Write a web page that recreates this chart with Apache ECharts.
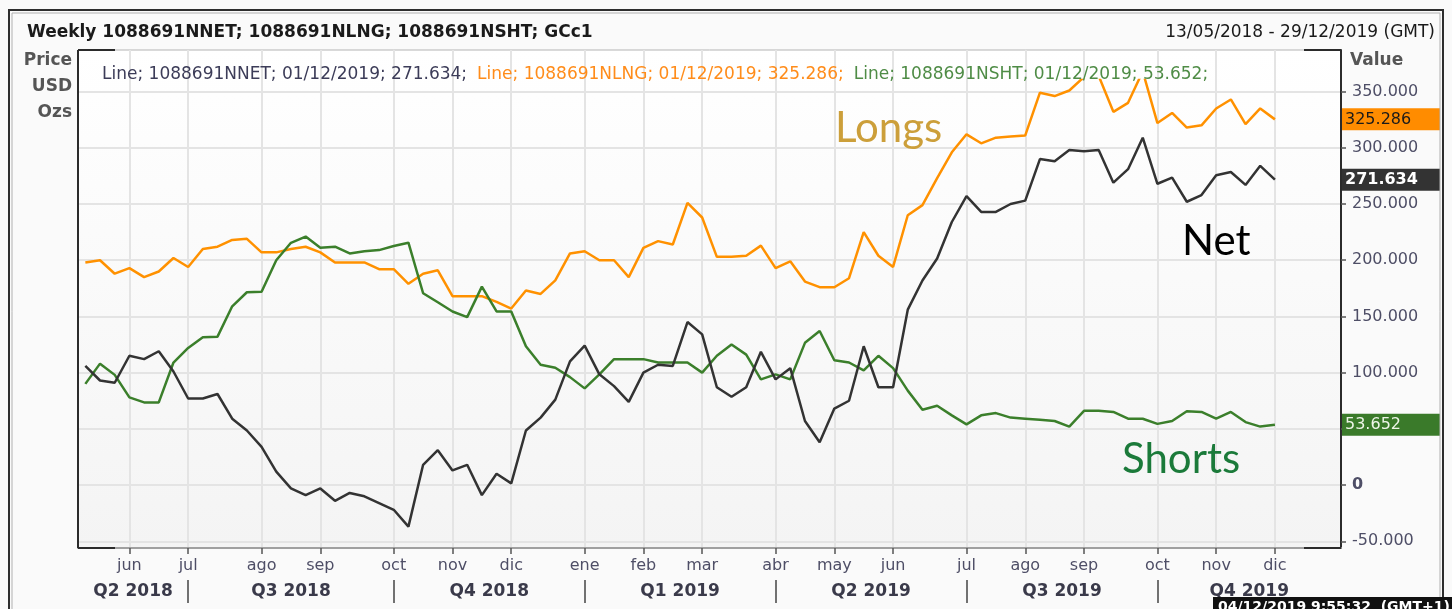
<!DOCTYPE html>
<html>
<head>
<meta charset="utf-8">
<title>Posiciones COT oro</title>
<script src="https://cdn.jsdelivr.net/npm/echarts@6.0.0/dist/echarts.min.js"></script>
<style>
  html, body { margin: 0; padding: 0; background: #ffffff; }
  #main { width: 1452px; height: 609px; }
</style>
</head>
<body>
<div id="main"></div>
<script>
// semanas (domingos) del 13/05/2018 al 29/12/2019
var weeks = [];
for (var k = 0; k < 86; k++) {
  var d = new Date(Date.UTC(2018, 4, 13) + k * 7 * 86400000);
  weeks.push(('0' + d.getUTCDate()).slice(-2) + '/' + ('0' + (d.getUTCMonth() + 1)).slice(-2) + '/' + d.getUTCFullYear());
}
var monthNames = ['ene', 'feb', 'mar', 'abr', 'may', 'jun', 'jul', 'ago', 'sep', 'oct', 'nov', 'dic'];
var quarterLabels = ['Q2 2018', 'Q3 2018', 'Q4 2018', 'Q1 2019', 'Q2 2019', 'Q3 2019', 'Q4 2019'];
var yTicks = [-50, 0, 50, 100, 150, 200, 250, 300, 350];

// Net (1088691NNET)
var netData = [106, 93, 91, 115, 112, 119, 101, 77, 77, 81, 59, 48.5, 34, 12, -3, -9, -3,
  -14, -7, -10, -16, -22, -37, 18, 31, 13, 18, -9, 10, 1.5, 48.5, 60, 76, 110,
  124, 98.5, 88, 74, 100, 107, 106, 145, 134, 87, 78.5, 87, 118.5, 94, 104, 57, 38,
  68, 75, 123.5, 87, 87, 156, 182, 201.5, 234, 257, 243, 243, 250, 253, 290, 288, 298,
  297, 298, 269, 281, 309, 268, 273.5, 252, 258, 275.5, 278.5, 267, 284, 271.634];
// Longs (1088691NLNG)
var longData = [198, 200, 188, 193, 185, 190, 202, 194, 210, 212, 218, 219, 207, 207, 210, 212, 207,
  198, 198, 198, 192, 192, 179, 188, 191, 168, 168, 168, 163, 157, 173, 170, 182, 206,
  208, 200, 200, 185, 211, 217, 214, 251, 238, 203, 203, 204, 213, 193, 199, 181, 176,
  176, 184, 225, 204, 194, 240, 249, 273, 296, 312, 304, 309, 310, 311, 349, 346, 351,
  363, 364, 332, 340, 368, 322, 331, 318, 320, 335, 343, 321, 335, 325.286];
// Shorts (1088691NSHT)
var shortData = [90, 108, 98, 78, 73.5, 73.5, 109, 122, 131.5, 132, 159, 171.5, 172, 200, 215.5, 221, 211,
  212, 206, 208, 209, 212.6, 215.6, 170.6, 162.6, 154.4, 149.4, 176.5, 154.4, 154.4, 123.5, 107, 104.4, 96,
  86, 98.5, 112, 112, 112, 109, 109, 109, 100, 115, 125, 116, 94, 98.5, 94, 126.5, 137,
  111, 109, 102, 115, 104, 84, 67, 70.6, 62, 54, 62, 64, 60, 59, 58, 57, 52,
  66, 66, 65, 59, 59, 54.4, 57, 65.6, 65, 59, 65, 56, 52, 53.652];

var FONT = '"DejaVu Sans", Verdana, sans-serif';
var plot = { left: 78, right: 1341, top: 50, bottom: 548 };
var clipTop = 80;
var yMin = -56, yMax = 387;
var clipMax = yMin + (yMax - yMin) * (plot.bottom - clipTop) / (plot.bottom - plot.top);

// posiciones de meses y trimestres en unidades de semana
var monthPos = [], quarterEdges = [0];
weeks.forEach(function (w, i) {
  var p = w.split('/');
  if (+p[0] <= 7) {
    monthPos.push(i + 0.5);
    if ((+p[1] - 1) % 3 === 0) quarterEdges.push(i + 0.5);
  }
});
quarterEdges.push(weeks.length);
var quarterMid = [];
for (var q = 0; q < quarterEdges.length - 1; q++) quarterMid.push((quarterEdges[q] + quarterEdges[q + 1]) / 2);

var lastIdx = netData.length - 1;

function lastBox(value, bg, color, weight) {
  return {
    silent: true,
    symbol: 'none',
    animation: false,
    lineStyle: { color: 'rgba(0,0,0,0)', width: 0, type: 'solid' },
    label: {
      show: true, position: 'end', distance: 1,
      formatter: function () { return value.toFixed(3); },
      backgroundColor: bg, color: color, fontWeight: weight,
      fontFamily: FONT, fontSize: 16, lineHeight: 17,
      padding: [3, 4, 2, 3], width: 91
    },
    data: [{ yAxis: value }]
  };
}

var chart = echarts.init(document.getElementById('main'));

var option = {
  animation: false,
  backgroundColor: '#fafafa',
  legend: {
    left: 92, top: 61,
    icon: 'none', itemWidth: 0, itemHeight: 0, itemGap: 5,
    selectedMode: false,
    textStyle: { fontFamily: FONT, fontSize: 17 },
    formatter: function (name) {
      var s = { '1088691NNET': netData, '1088691NLNG': longData, '1088691NSHT': shortData }[name];
      return 'Line; ' + name + '; ' + weeks[lastIdx] + '; ' + s[lastIdx].toFixed(3) + ';';
    },
    data: [
      { name: '1088691NNET', textStyle: { color: '#3c3c58' } },
      { name: '1088691NLNG', textStyle: { color: '#ff8c1a' } },
      { name: '1088691NSHT', textStyle: { color: '#4f8c46' } }
    ]
  },
  grid: [
    {
      left: plot.left, right: 1452 - plot.right, top: plot.top, bottom: 609 - plot.bottom,
      show: true, borderColor: '#b4b4b4', borderWidth: 1,
      backgroundColor: new echarts.graphic.LinearGradient(0, 0, 0, 1, [
        { offset: 0, color: '#ffffff' }, { offset: 1, color: '#f4f4f4' }
      ])
    },
    { left: plot.left, right: 1452 - plot.right, top: clipTop, bottom: 609 - plot.bottom }
  ],
  xAxis: [
    {
      type: 'value', gridIndex: 0, min: 0, max: weeks.length, position: 'bottom',
      axisLine: { show: true, onZero: false, lineStyle: { color: '#a0a0a0', width: 2 } },
      axisTick: { show: true, customValues: monthPos, length: 6, lineStyle: { color: '#555555', width: 1.5 } },
      axisLabel: {
        customValues: monthPos, margin: 10, color: '#4e4e66', fontFamily: FONT, fontSize: 16,
        formatter: function (v) {
          var w = weeks[Math.round(v - 0.5)];
          return w ? monthNames[+w.split('/')[1] - 1] : '';
        }
      },
      splitLine: { show: true, lineStyle: { color: '#e4e4e4', width: 2 } }
    },
    {
      type: 'value', gridIndex: 0, min: 0, max: weeks.length, position: 'bottom', offset: 32,
      axisLine: { show: false, onZero: false },
      axisTick: { show: true, customValues: quarterEdges.slice(1, -1), length: 23, lineStyle: { color: '#444444', width: 1.5 } },
      axisLabel: {
        customValues: quarterMid, margin: 3, color: '#3a3a4a', fontFamily: FONT, fontSize: 17, fontWeight: 'bold',
        formatter: function (v) {
          var best = 0;
          quarterMid.forEach(function (m, j) { if (Math.abs(m - v) < Math.abs(quarterMid[best] - v)) best = j; });
          return quarterLabels[best];
        }
      },
      splitLine: { show: false }
    },
    { type: 'category', gridIndex: 1, data: weeks, boundaryGap: true, show: false }
  ],
  yAxis: [
    {
      type: 'value', gridIndex: 0, min: yMin, max: yMax, position: 'right',
      axisLine: { show: true, onZero: false, lineStyle: { color: '#2b2b2b', width: 2 } },
      axisTick: { show: true, customValues: yTicks, length: 5, lineStyle: { color: '#555555', width: 1.5 } },
      axisLabel: {
        customValues: yTicks, margin: 11, color: '#4e4e66', fontFamily: FONT, fontSize: 16,
        formatter: function (v) { return v === 0 ? '{z|0}' : v.toFixed(3); },
        rich: { z: { fontWeight: 'bold', fontFamily: FONT, fontSize: 16, color: '#4e4e66' } }
      },
      splitLine: { show: true, lineStyle: { color: '#e4e4e4', width: 2 } }
    },
    { type: 'value', gridIndex: 1, min: yMin, max: clipMax, show: false }
  ],
  series: [
    {
      name: '1088691NLNG', type: 'line', xAxisIndex: 2, yAxisIndex: 1,
      data: longData, symbol: 'none',
      lineStyle: { color: '#ff9100', width: 2.5 }, itemStyle: { color: '#ff9100' },
      markLine: lastBox(longData[lastIdx], '#ff8c00', '#1a1a1a', 'normal')
    },
    {
      name: '1088691NSHT', type: 'line', xAxisIndex: 2, yAxisIndex: 1,
      data: shortData, symbol: 'none',
      lineStyle: { color: '#3b7f2b', width: 2.5 }, itemStyle: { color: '#3b7f2b' },
      markLine: lastBox(shortData[lastIdx], '#3a7a2a', '#eef5e8', 'normal')
    },
    {
      name: '1088691NNET', type: 'line', xAxisIndex: 2, yAxisIndex: 1,
      data: netData, symbol: 'none',
      lineStyle: { color: '#333333', width: 2.5 }, itemStyle: { color: '#333333' },
      markLine: lastBox(netData[lastIdx], '#333333', '#ffffff', 'bold')
    }
  ],
  graphic: [
    // marco exterior
    { type: 'rect', z: 100, silent: true, shape: { x: 9, y: 10, width: 1434, height: 620 },
      style: { fill: 'none', stroke: '#2e2e2e', lineWidth: 2 } },
    { type: 'rect', z: 100, silent: true, shape: { x: 12, y: 13, width: 1428, height: 620 },
      style: { fill: 'none', stroke: '#b0b0b0', lineWidth: 1 } },
    // bordes del área de trazado
    { type: 'line', z: 100, silent: true, shape: { x1: plot.left, y1: plot.top, x2: plot.left, y2: plot.bottom },
      style: { stroke: '#2b2b2b', lineWidth: 2 } },
    { type: 'polyline', z: 100, silent: true, shape: { points: [[plot.left, plot.top], [plot.left + 37, plot.top]] },
      style: { stroke: '#2b2b2b', lineWidth: 2 } },
    { type: 'polyline', z: 100, silent: true, shape: { points: [[plot.left, plot.bottom], [plot.left + 37, plot.bottom]] },
      style: { stroke: '#2b2b2b', lineWidth: 2 } },
    { type: 'polyline', z: 100, silent: true, shape: { points: [[plot.right - 37, plot.top], [plot.right, plot.top]] },
      style: { stroke: '#2b2b2b', lineWidth: 2 } },
    { type: 'polyline', z: 100, silent: true, shape: { points: [[plot.right - 37, plot.bottom], [plot.right, plot.bottom]] },
      style: { stroke: '#2b2b2b', lineWidth: 2 } },
    // textos
    { type: 'text', z: 100, silent: true, style: { x: 27, y: 33, text: 'Weekly 1088691NNET; 1088691NLNG; 1088691NSHT; GCc1',
      font: 'bold 17px ' + FONT, fill: '#1a1a1a', textAlign: 'left', textVerticalAlign: 'middle' } },
    { type: 'text', z: 100, silent: true, style: { x: 1435, y: 33, text: '13/05/2018 - 29/12/2019 (GMT)',
      font: '17px ' + FONT, fill: '#1a1a1a', textAlign: 'right', textVerticalAlign: 'middle' } },
    { type: 'text', z: 100, silent: true, style: { x: 72, y: 61, text: 'Price',
      font: 'bold 17px ' + FONT, fill: '#555555', textAlign: 'right', textVerticalAlign: 'middle' } },
    { type: 'text', z: 100, silent: true, style: { x: 72, y: 87, text: 'USD',
      font: 'bold 17px ' + FONT, fill: '#555555', textAlign: 'right', textVerticalAlign: 'middle' } },
    { type: 'text', z: 100, silent: true, style: { x: 72, y: 113, text: 'Ozs',
      font: 'bold 17px ' + FONT, fill: '#555555', textAlign: 'right', textVerticalAlign: 'middle' } },
    { type: 'text', z: 100, silent: true, style: { x: 1350, y: 61, text: 'Value',
      font: 'bold 17px ' + FONT, fill: '#555555', textAlign: 'left', textVerticalAlign: 'middle' } },
    { type: 'text', z: 100, silent: true, style: { x: 835, y: 128, text: 'Longs',
      font: '42px Lato, "Open Sans", sans-serif', fill: '#cc9f3a', textAlign: 'left', textVerticalAlign: 'middle' } },
    { type: 'text', z: 100, silent: true, style: { x: 1182, y: 241, text: 'Net',
      font: '42px Lato, "Open Sans", sans-serif', fill: '#000000', textAlign: 'left', textVerticalAlign: 'middle' } },
    { type: 'text', z: 100, silent: true, style: { x: 1122, y: 459, text: 'Shorts',
      font: '42px Lato, "Open Sans", sans-serif', fill: '#1b7a3a', textAlign: 'left', textVerticalAlign: 'middle' } },
    // sello de hora
    { type: 'rect', z: 100, silent: true, shape: { x: 1213, y: 597, width: 240, height: 20 },
      style: { fill: '#111111' } },
    { type: 'text', z: 101, silent: true, style: { x: 1218, y: 607, text: '04/12/2019 9:55:32  (GMT+1)',
      font: 'bold 14px ' + FONT, fill: '#ffffff', textAlign: 'left', textVerticalAlign: 'middle' } }
  ]
};

chart.setOption(option);
</script>
</body>
</html>
